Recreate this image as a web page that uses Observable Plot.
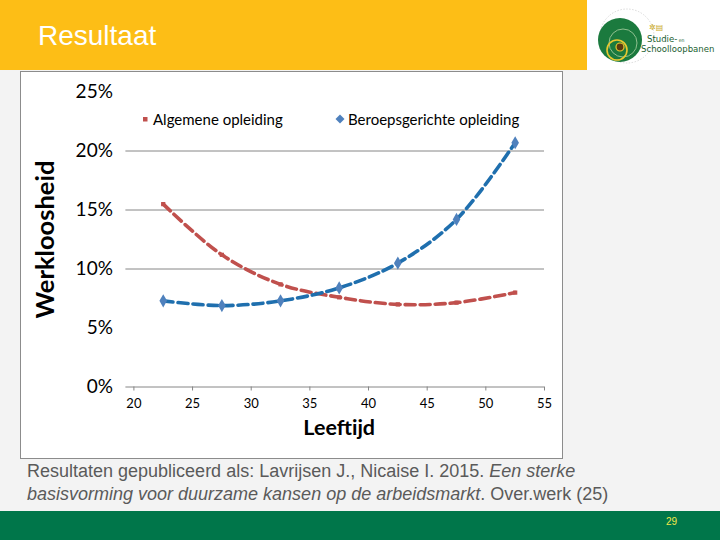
<!DOCTYPE html>
<html><head><meta charset="utf-8">
<script src="https://cdn.jsdelivr.net/npm/d3@7"></script>
<script src="https://cdn.jsdelivr.net/npm/@observablehq/plot@0.6"></script>
<style>
body{margin:0;width:720px;height:540px;background:#f3f3f3;position:relative;overflow:hidden;font-family:"Liberation Sans",Arial,sans-serif}
#header{position:absolute;left:0;top:0;width:587px;height:70px;background:#fdbe16}
#title{position:absolute;left:38px;top:20px;color:#fff;font-size:28px;line-height:32px}
#logo{position:absolute;left:587px;top:0;width:133px;height:70px;background:#fff}
#box{position:absolute;left:20px;top:71px;width:541px;height:386px;border:1px solid #8c8c8c;background:#fff}
#chart{position:absolute;left:0;top:0}
#legend{position:absolute;top:36px;left:0;width:541px;font-family:Lato,sans-serif;font-size:15px;color:#000}
.li{position:absolute;top:0;display:flex;align-items:center;white-space:nowrap;line-height:22px}
#caption{position:absolute;left:27px;top:460px;width:690px;color:#5a5a5a;font-size:18px;line-height:23px;white-space:nowrap}
#footer{position:absolute;left:0;top:511px;width:720px;height:29px;background:#00764a}
#page{position:absolute;left:666px;top:516px;color:#f2e84a;font-size:10px}
</style></head>
<body>
<div id="header"><div id="title">Resultaat</div></div>
<div id="logo">
<svg width="133" height="70" viewBox="0 0 133 70">
<circle cx="40" cy="36" r="27" fill="none" stroke="#c8c8c8" stroke-width="0.7" stroke-dasharray="1.5,1.5"/>
<circle cx="33" cy="40" r="22" fill="#1b7a3e"/>
<circle cx="36" cy="43" r="14" fill="none" stroke="#8fc08f" stroke-width="1"/>
<circle cx="30" cy="50" r="10" fill="none" stroke="#e8c830" stroke-width="1.6"/>
<circle cx="33" cy="47" r="4" fill="#5a3a10" stroke="#e8c830" stroke-width="1.2"/>
<text x="62" y="30" font-size="8" fill="#c9a820" font-family="DejaVu Sans">✲▤</text>
<text x="60" y="42" font-size="9.5" fill="#1b5e30" font-family="DejaVu Sans Condensed,DejaVu Sans">Studie-<tspan font-size="5"> en</tspan></text>
<text x="54" y="52" font-size="9.5" fill="#1b5e30" font-family="DejaVu Sans Condensed,DejaVu Sans">Schoolloopbanen</text>
</svg>
</div>
<div id="box">
<div id="chart"></div>
<div id="legend">
<div class="li" style="left:120px"><svg width="10" height="10"><rect x="2" y="3" width="4.5" height="4.5" fill="#c0504d"/></svg><span style="margin-left:2px">Algemene opleiding</span></div>
<div class="li" style="left:313px"><svg width="12" height="12"><path d="M6,1.5 L10.5,6 L6,10.5 L1.5,6Z" fill="#4f81bd"/></svg><span style="margin-left:2px">Beroepsgerichte opleiding</span></div>
</div>
</div>
<div id="caption">Resultaten gepubliceerd als: Lavrijsen J., Nicaise I. 2015. <i>Een sterke</i><br><i>basisvorming voor duurzame kansen op de arbeidsmarkt</i>. Over.werk (25)</div>
<div id="footer"></div>
<div id="page">29</div>
<script>
const ages = [22.5, 27.5, 32.5, 37.5, 42.5, 47.5, 52.5];
const algemene = [15.5, 11.2, 8.7, 7.6, 7.0, 7.15, 8.0];
const beroeps = [7.3, 6.9, 7.3, 8.4, 10.5, 14.2, 20.7];
const xTicks = [20, 25, 30, 35, 40, 45, 50, 55];
const yTicks = [0, 5, 10, 15, 20, 25];
const gridValues = [0, 10, 15, 20];
const seriesNames = ["Algemene opleiding", "Beroepsgerichte opleiding"];

const alg = ages.map((a, i) => ({age: a, value: algemene[i], series: seriesNames[0]}));
const ber = ages.map((a, i) => ({age: a, value: beroeps[i], series: seriesNames[1]}));

const chart = Plot.plot({
  width: 541,
  height: 386,
  marginLeft: 112.4,
  marginRight: 18,
  marginTop: 19.5,
  marginBottom: 71.5,
  style: {fontFamily: "Lato, sans-serif", color: "#000", background: "transparent"},
  x: {domain: [20, 55]},
  y: {domain: [0, 25]},
  marks: [
    Plot.ruleY(gridValues, {stroke: "#868686", strokeWidth: 1, insetLeft: -8}),
    Plot.axisY({ticks: yTicks, tickSize: 0, tickPadding: 21, tickFormat: d => d + "%", fontSize: 19, label: null}),
    Plot.axisX({ticks: xTicks, tickSize: 4, tickPadding: 8, fontSize: 13, label: null, stroke: "#868686"}),
    Plot.line(alg, {x: "age", y: "value", stroke: "#c0504d", strokeWidth: 3.6, strokeDasharray: "10,5", curve: "catmull-rom"}),
    Plot.line(ber, {x: "age", y: "value", stroke: "#1f6fae", strokeWidth: 3.6, strokeDasharray: "10,5", curve: "catmull-rom"}),
    Plot.dot(alg, {x: "age", y: "value", symbol: "square", r: 2.4, fill: "#c0504d"}),
    Plot.dot(ber, {x: "age", y: "value", symbol: "diamond", r: 4, fill: "#4f81bd"}),
    Plot.text(["Leeftijd"], {frameAnchor: "bottom", dy: 48, fontSize: 21.5, fontWeight: "bold"}),
    Plot.text(["Werkloosheid"], {frameAnchor: "left", textAnchor: "middle", dx: -88, rotate: -90, fontSize: 25.5, fontWeight: "bold"})
  ]
});
document.getElementById("chart").appendChild(chart);
</script>
</body></html>
